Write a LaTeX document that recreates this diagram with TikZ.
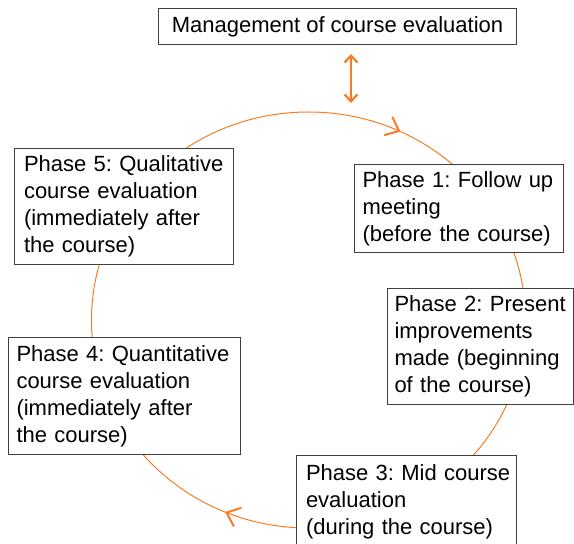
\documentclass[tikz,border=0pt]{standalone}
\usepackage{fontspec}
\setmainfont{Liberation Sans}
\usepackage{xcolor}
\usepackage{tikz}
\usetikzlibrary{arrows.meta,decorations.markings,positioning}
\definecolor{loopOrange}{RGB}{247,124,38}
\definecolor{boxGray}{RGB}{64,64,64}
\tikzstyle{phase} = [rectangle, anchor=north west, draw=boxGray, line width=1pt, fill=white, align=left, inner xsep=9.5pt, inner ysep=0pt, font=\fontsize{22}{27}\selectfont\frenchspacing]
\tikzstyle{manage} = [rectangle, anchor=north west, draw=boxGray, line width=1pt, fill=white, minimum width=358pt, minimum height=36pt, inner sep=0pt, font=\fontsize{22}{27}\selectfont]
\tikzstyle{cycleLine} = [draw=loopOrange, line width=1pt, postaction={decorate},
   decoration={markings,
   mark=at position 0.179 with {\arrowreversed[loopOrange]{Straight Barb[length=12pt,width=20pt,line width=2pt]}},
   mark=at position 0.686 with {\arrowreversed[loopOrange]{Straight Barb[length=12pt,width=20pt,line width=2pt]}}}]
\tikzstyle{linkArrow} = [draw=loopOrange, line width=2.2pt, >={Straight Barb[length=7pt,width=13pt]}, <->]

\begin{document}
\begin{tikzpicture}[x=1pt, y=1pt]
\useasboundingbox (0,0) rectangle (574,544);

% the evaluation cycle
\coordinate (hub) at (308.5,224);
\path[cycleLine] (hub) ellipse [x radius=217pt, y radius=208pt];

\node (mgmt) [manage] at (158,536) {Management of course evaluation};
\node (ph5) [phase, text width=200pt, minimum height=116pt] at (14,396)
  {Phase 5: Qualitative\\course evaluation\\(immediately after\\the course)};
\node (ph1) [phase, inner xsep=8pt, text width=193pt, minimum height=88pt] at (354,380)
  {Phase 1: Follow up\\meeting\\(before the course)};
\node (ph2) [phase, inner xsep=7pt, text width=172pt, minimum height=116pt] at (387,256)
  {Phase 2: Present\\improvements\\made (beginning\\of the course)};
\node (ph4) [phase, inner xsep=8pt, text width=216pt, minimum height=117pt] at (8,207)
  {Phase 4: Quantitative\\course evaluation\\(immediately after\\the course)};
\node (ph3) [phase, inner xsep=9.5pt, text width=201pt, minimum height=92pt] at (296,89)
  {\mbox{Phase 3: Mid course}\\evaluation\\\mbox{(during the course)}};

\coordinate (loopTop) at (351,441);
\draw[linkArrow, shorten <=9pt] (mgmt.south -| loopTop) -- (loopTop);

\end{tikzpicture}
\end{document}
